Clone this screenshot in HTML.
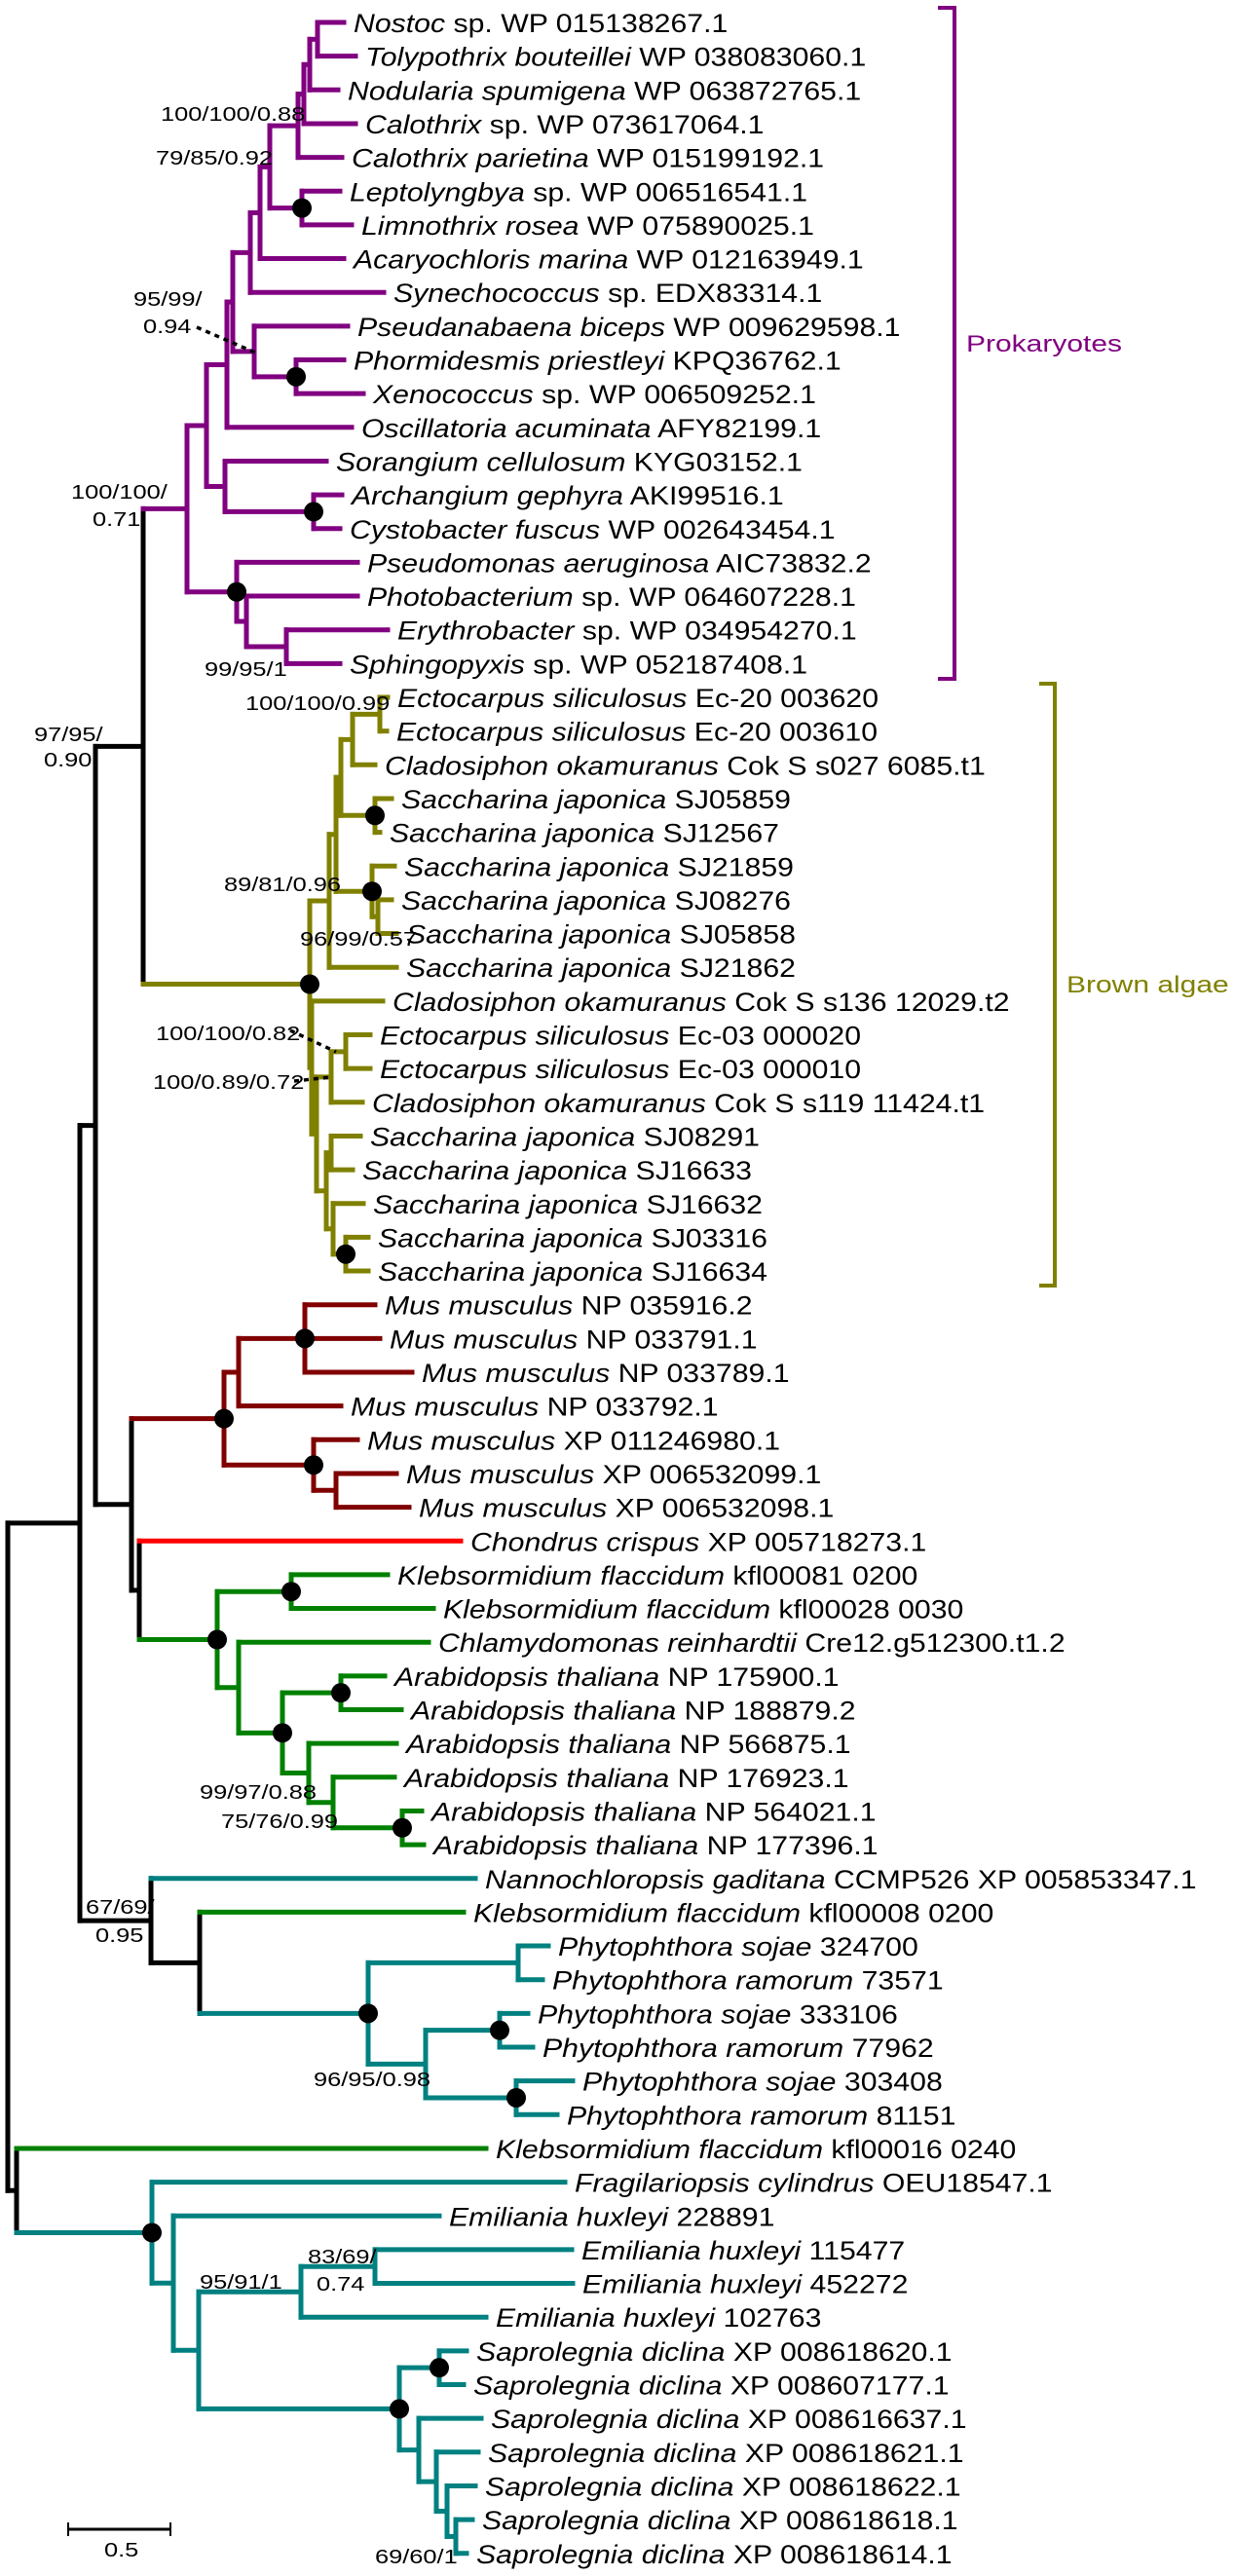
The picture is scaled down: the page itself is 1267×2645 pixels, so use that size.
<!DOCTYPE html>
<html><head><meta charset="utf-8">
<style>
html,body{margin:0;padding:0;background:#fff;}
svg{display:block;}
text{font-family:"Liberation Sans",Arial,sans-serif;fill:#000;}
.lbl{font-size:20px;}
</style></head>
<body>
<svg id="tree" width="1267" height="2645" viewBox="0 0 1267 2645" xmlns="http://www.w3.org/2000/svg">
  <g id="branches"></g>
  <g id="dots"></g>
  <g id="leaves"></g>
  <g>
    <text class="lbl" transform="translate(165,124) scale(1.27,1)">100/100/0.88</text>
    <text class="lbl" transform="translate(160,169) scale(1.27,1)">79/85/0.92</text>
    <text class="lbl" transform="translate(137,314) scale(1.27,1)">95/99/</text>
    <text class="lbl" transform="translate(147,342) scale(1.27,1)">0.94</text>
    <text class="lbl" transform="translate(73,512) scale(1.27,1)">100/100/</text>
    <text class="lbl" transform="translate(95,540) scale(1.27,1)">0.71</text>
    <text class="lbl" transform="translate(210,694) scale(1.27,1)">99/95/1</text>
    <text class="lbl" transform="translate(252,729) scale(1.27,1)">100/100/0.99</text>
    <text class="lbl" transform="translate(35,761) scale(1.27,1)">97/95/</text>
    <text class="lbl" transform="translate(45,787) scale(1.27,1)">0.90</text>
    <text class="lbl" transform="translate(230,915) scale(1.27,1)">89/81/0.96</text>
    <text class="lbl" transform="translate(308,971) scale(1.27,1)">96/99/0.57</text>
    <text class="lbl" transform="translate(160,1068) scale(1.27,1)">100/100/0.82</text>
    <text class="lbl" transform="translate(157,1118) scale(1.27,1)">100/0.89/0.72</text>
    <text class="lbl" transform="translate(205,1847) scale(1.27,1)">99/97/0.88</text>
    <text class="lbl" transform="translate(227,1877) scale(1.27,1)">75/76/0.99</text>
    <text class="lbl" transform="translate(88,1965) scale(1.27,1)">67/69/</text>
    <text class="lbl" transform="translate(98,1994) scale(1.27,1)">0.95</text>
    <text class="lbl" transform="translate(322,2142) scale(1.27,1)">96/95/0.98</text>
    <text class="lbl" transform="translate(316,2324) scale(1.27,1)">83/69/</text>
    <text class="lbl" transform="translate(325,2352) scale(1.27,1)">0.74</text>
    <text class="lbl" transform="translate(205,2350) scale(1.27,1)">95/91/1</text>
    <text class="lbl" transform="translate(385,2632) scale(1.27,1)">69/60/1</text>
    <line x1="202" y1="336" x2="262" y2="362" stroke="#000" stroke-width="3.5" stroke-dasharray="5,5"/>
    <line x1="298" y1="1058" x2="345" y2="1080" stroke="#000" stroke-width="3.5" stroke-dasharray="5,5"/>
    <line x1="302" y1="1110" x2="340" y2="1106" stroke="#000" stroke-width="3.5" stroke-dasharray="5,5"/>
  </g>
  <g>
    <polyline points="963,8 980,8 980,697 963,697" fill="none" stroke="#800080" stroke-width="4"/>
    <text style="fill:#800080;font-size:24px" transform="translate(992,361) scale(1.25,1)">Prokaryotes</text>
  </g>
  <g>
    <polyline points="1067,702 1083,702 1083,1320 1067,1320" fill="none" stroke="#808000" stroke-width="4"/>
    <text style="fill:#808000;font-size:24px" transform="translate(1095,1019) scale(1.25,1)">Brown algae</text>
  </g>
  <g>
    <line x1="70" y1="2597" x2="175" y2="2597" stroke="#000" stroke-width="3"/>
    <line x1="70" y1="2590" x2="70" y2="2604" stroke="#000" stroke-width="2"/>
    <line x1="175" y1="2590" x2="175" y2="2604" stroke="#000" stroke-width="2"/>
    <text class="lbl" transform="translate(107,2625) scale(1.27,1)">0.5</text>
  </g>
</svg>
<script>
const NS = "http://www.w3.org/2000/svg";
const ROW0 = 23, ROWH = 34.65;
const P="#800080", O="#808000", R="#800000", RD="#ff0000", G="#008000", T="#008080", K="#000000";
function N(x,c,ch,dot){return {x:x,c:c,ch:ch,dot:!!dot};}
function L(x,c,it,rest){return {x:x,c:c,it:it,rest:rest};}

const prok = N(192,P,[
  N(212,P,[
    N(233,P,[
      N(239,P,[
        N(257,P,[
          N(267,P,[
            N(277,P,[
              N(306,P,[N(312,P,[N(318,P,[N(326,P,[L(353,P,"Nostoc"," sp. WP 015138267.1"),L(365,P,"Tolypothrix bouteillei"," WP 038083060.1")]),L(347,P,"Nodularia spumigena"," WP 063872765.1")]),L(365,P,"Calothrix"," sp. WP 073617064.1")]),L(351,P,"Calothrix parietina"," WP 015199192.1")]),
              N(310,P,[L(349,P,"Leptolyngbya"," sp. WP 006516541.1"),L(361,P,"Limnothrix rosea"," WP 075890025.1")],1)
            ]),
            L(353,P,"Acaryochloris marina"," WP 012163949.1")
          ]),
          L(394,P,"Synechococcus"," sp. EDX83314.1")
        ]),
        N(261,P,[L(357,P,"Pseudanabaena biceps"," WP 009629598.1"),N(304,P,[L(353,P,"Phormidesmis priestleyi"," KPQ36762.1"),L(373,P,"Xenococcus"," sp. WP 006509252.1")],1)])
      ]),
      L(361,P,"Oscillatoria acuminata"," AFY82199.1")
    ]),
    N(231,P,[L(335,P,"Sorangium cellulosum"," KYG03152.1"),N(322,P,[L(351,P,"Archangium gephyra"," AKI99516.1"),L(349,P,"Cystobacter fuscus"," WP 002643454.1")],1)])
  ]),
  N(243,P,[L(367,P,"Pseudomonas aeruginosa"," AIC73832.2"),N(253,P,[L(367,P,"Photobacterium"," sp. WP 064607228.1"),N(294,P,[L(398,P,"Erythrobacter"," sp. WP 034954270.1"),L(349,P,"Sphingopyxis"," sp. WP 052187408.1")])])],1)
]);

const SJ="Saccharina japonica";
const brown = N(318,O,[
  N(338,O,[
    N(345,O,[
      N(350,O,[
        N(362,O,[N(390,O,[L(398,O,"Ectocarpus siliculosus"," Ec-20 003620"),L(397,O,"Ectocarpus siliculosus"," Ec-20 003610")]),L(385,O,"Cladosiphon okamuranus"," Cok S s027 6085.t1")]),
        N(385,O,[L(402,O,SJ," SJ05859"),L(390,O,SJ," SJ12567")],1)
      ]),
      N(382,O,[L(405,O,SJ," SJ21859"),N(388,O,[L(402,O,SJ," SJ08276"),L(407,O,SJ," SJ05858")])],1)
    ]),
    L(407,O,SJ," SJ21862")
  ]),
  N(320,O,[
    L(393,O,"Cladosiphon okamuranus"," Cok S s136 12029.t2"),
    N(325,O,[
      N(340,O,[N(355,O,[L(380,O,"Ectocarpus siliculosus"," Ec-03 000020"),L(380,O,"Ectocarpus siliculosus"," Ec-03 000010")]),L(372,O,"Cladosiphon okamuranus"," Cok S s119 11424.t1")]),
      N(335,O,[N(340,O,[L(370,O,SJ," SJ08291"),L(362,O,SJ," SJ16633")]),N(342,O,[L(373,O,SJ," SJ16632"),N(355,O,[L(378,O,SJ," SJ03316"),L(378,O,SJ," SJ16634")],1)])])
    ])
  ])
],1);

const MM="Mus musculus";
const mus = N(230,R,[
  N(245,R,[N(313,R,[L(385,R,MM," NP 035916.2"),L(390,R,MM," NP 033791.1"),L(423,R,MM," NP 033789.1")],1),L(350,R,MM," NP 033792.1")]),
  N(322,R,[L(367,R,MM," XP 011246980.1"),N(345,R,[L(407,R,MM," XP 006532099.1"),L(420,R,MM," XP 006532098.1")])],1)
],1);

const AT="Arabidopsis thaliana", KF="Klebsormidium flaccidum";
const plants = N(143,K,[
  L(473,RD,"Chondrus crispus"," XP 005718273.1"),
  N(223,G,[
    N(299,G,[L(398,G,KF," kfl00081 0200"),L(445,G,KF," kfl00028 0030")],1),
    N(245,G,[L(440,G,"Chlamydomonas reinhardtii"," Cre12.g512300.t1.2"),
      N(290,G,[N(350,G,[L(395,G,AT," NP 175900.1"),L(412,G,AT," NP 188879.2")],1),
        N(317,G,[L(407,G,AT," NP 566875.1"),N(342,G,[L(405,G,AT," NP 176923.1"),N(413,G,[L(433,G,AT," NP 564021.1"),L(435,G,AT," NP 177396.1")],1)])])],1)])
  ],1)
]);

const phyto = N(155,K,[
  L(488,T,"Nannochloropsis gaditana"," CCMP526 XP 005853347.1"),
  N(205,K,[L(476,G,KF," kfl00008 0200"),
    N(378,T,[N(532,T,[L(563,T,"Phytophthora sojae"," 324700"),L(557,T,"Phytophthora ramorum"," 73571")]),
      N(437,T,[N(513,T,[L(542,T,"Phytophthora sojae"," 333106"),L(547,T,"Phytophthora ramorum"," 77962")],1),
               N(530,T,[L(588,T,"Phytophthora sojae"," 303408"),L(572,T,"Phytophthora ramorum"," 81151")],1)])],1)])
]);

const EH="Emiliania huxleyi", SD="Saprolegnia diclina";
const strameno = N(17,K,[
  L(499,G,KF," kfl00016 0240"),
  N(156,T,[L(580,T,"Fragilariopsis cylindrus"," OEU18547.1"),
    N(178,T,[L(451,T,EH," 228891"),
      N(204,T,[N(309,T,[N(385,T,[L(587,T,EH," 115477"),L(588,T,EH," 452272")]),L(499,T,EH," 102763")]),
        N(410,T,[N(451,T,[L(479,T,SD," XP 008618620.1"),L(476,T,SD," XP 008607177.1")],1),
          N(430,T,[L(494,T,SD," XP 008616637.1"),N(448,T,[L(491,T,SD," XP 008618621.1"),N(459,T,[L(488,T,SD," XP 008618622.1"),N(468,T,[L(485,T,SD," XP 008618618.1"),L(479,T,SD," XP 008618614.1")])])])])],1)])])],1)
]);

const root = N(8,K,[N(82,K,[N(98,K,[N(147,K,[prok,brown]),N(135,K,[mus,plants])]),phyto]),strameno]);

const gB=document.getElementById('branches'), gD=document.getElementById('dots'), gL=document.getElementById('leaves');
let row=0;
function layout(n){
  if(!n.ch){n.y=ROW0+row*ROWH;row++;return n.y;}
  const ys=n.ch.map(layout);
  n.y=(ys[0]+ys[ys.length-1])/2;return n.y;
}
layout(root);
function line(x1,y1,x2,y2,c){
  const l=document.createElementNS(NS,'line');
  l.setAttribute('x1',x1);l.setAttribute('y1',y1);l.setAttribute('x2',x2);l.setAttribute('y2',y2);
  l.setAttribute('stroke',c);l.setAttribute('stroke-width',5);l.setAttribute('stroke-linecap','square');
  
  
  gB.appendChild(l);
}
function draw(n){
  if(!n.ch){
    const t=document.createElementNS(NS,'text');
    t.setAttribute('transform','translate('+(n.x+10)+','+(n.y+10)+') scale(1.12,1)');
    t.setAttribute('font-size','27');
    const a=document.createElementNS(NS,'tspan');a.setAttribute('font-style','italic');a.textContent=n.it;
    const b=document.createElementNS(NS,'tspan');b.textContent=n.rest;
    t.appendChild(a);t.appendChild(b);
    
    
    gL.appendChild(t);
    return;
  }
  const f=n.ch[0], l=n.ch[n.ch.length-1];
  line(n.x,f.y,n.x,l.y,n.c);
  n.ch.forEach(ch=>{line(n.x,ch.y,ch.x,ch.y,ch.c);draw(ch);});
  if(n.dot){
    const d=document.createElementNS(NS,'circle');
    d.setAttribute('cx',n.x);d.setAttribute('cy',n.y);d.setAttribute('r',10);d.setAttribute('fill','#000');
    
    
    gD.appendChild(d);
  }
}
draw(root);
</script>
</body></html>
